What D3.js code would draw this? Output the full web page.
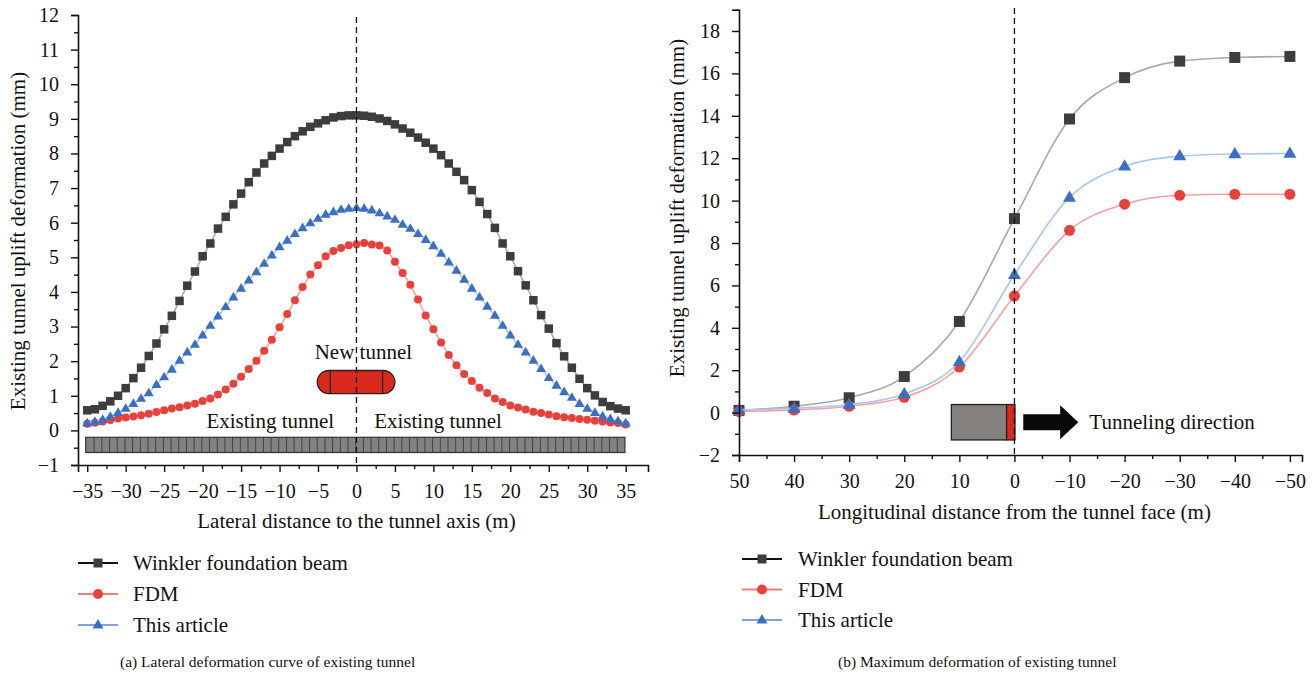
<!DOCTYPE html>
<html><head><meta charset="utf-8">
<script src="https://cdn.jsdelivr.net/npm/d3@7"></script>
<style>
body{margin:0;background:#fff}
svg{display:block}
text{font-family:"Liberation Serif","DejaVu Serif",serif;fill:#111}
</style>
</head><body>
<svg id="c" width="1316" height="678"></svg>
<script>
// ---------- DATA ----------
const lateralX = [-35,-34,-33,-32,-31,-30,-29,-28,-27,-26,-25,-24,-23,-22,-21,-20,-19,-18,-17,-16,-15,-14,-13,-12,-11,-10,-9,-8,-7,-6,-5,-4,-3,-2,-1,0,1,2,3,4,5,6,7,8,9,10,11,12,13,14,15,16,17,18,19,20,21,22,23,24,25,26,27,28,29,30,31,32,33,34,35];
const lateralWinkler = [0.58,0.61,0.71,0.84,1.00,1.22,1.51,1.81,2.15,2.51,2.92,3.31,3.74,4.18,4.59,5.03,5.40,5.83,6.17,6.53,6.84,7.17,7.45,7.71,7.93,8.14,8.33,8.50,8.64,8.77,8.87,8.96,9.04,9.08,9.10,
  9.10,
  9.09,9.06,9.01,8.94,8.84,8.72,8.60,8.46,8.31,8.14,7.95,7.71,7.47,7.23,6.94,6.60,6.25,5.85,5.40,5.03,4.60,4.19,3.76,3.33,2.94,2.52,2.14,1.81,1.49,1.22,1.01,0.82,0.70,0.63,0.58];
const lateralFDM = [0.19,0.22,0.26,0.30,0.34,0.37,0.40,0.44,0.48,0.53,0.58,0.63,0.67,0.72,0.77,0.85,0.92,1.04,1.18,1.35,1.55,1.77,2.01,2.30,2.62,2.98,3.36,3.76,4.14,4.50,4.77,5.03,5.18,5.27,5.35,
  5.38,
  5.41,5.37,5.34,5.20,4.87,4.55,4.21,3.78,3.32,2.92,2.54,2.18,1.88,1.63,1.43,1.23,1.08,0.92,0.82,0.72,0.66,0.60,0.54,0.50,0.46,0.41,0.38,0.36,0.33,0.31,0.28,0.26,0.23,0.21,0.17];
const lateralArticle = [0.21,0.25,0.31,0.40,0.51,0.63,0.77,0.92,1.08,1.32,1.54,1.76,2.02,2.26,2.48,2.75,3.03,3.30,3.57,3.85,4.10,4.34,4.58,4.82,5.06,5.30,5.49,5.68,5.85,5.99,6.12,6.24,6.31,6.38,6.41,
  6.43,
  6.41,6.36,6.28,6.19,6.09,5.95,5.83,5.68,5.51,5.33,5.11,4.86,4.62,4.36,4.10,3.85,3.58,3.32,3.03,2.75,2.48,2.26,2.02,1.78,1.52,1.30,1.11,0.95,0.77,0.63,0.51,0.41,0.33,0.27,0.21];

const longX = [50,40,30,20,10,0,-10,-20,-30,-40,-50];
const longWinkler = [0.10,0.30,0.70,1.70,4.30,9.15,13.85,15.80,16.58,16.75,16.80];
const longFDM     = [0.05,0.12,0.30,0.72,2.15,5.50,8.60,9.83,10.25,10.30,10.30];
const longArticle = [0.12,0.20,0.38,0.88,2.40,6.50,10.15,11.62,12.10,12.20,12.22];

const lateralTicksX = [-35,-30,-25,-20,-15,-10,-5,0,5,10,15,20,25,30,35];
const lateralTicksY = [-1,0,1,2,3,4,5,6,7,8,9,10,11,12];
const longTicksX = [50,40,30,20,10,0,-10,-20,-30,-40,-50];
const longTicksY = [-2,0,2,4,6,8,10,12,14,16,18];

const seriesNames = ["Winkler foundation beam","FDM","This article"];
const captionA = "(a) Lateral deformation curve of existing tunnel";
const captionB = "(b) Maximum deformation of existing tunnel";

// ---------- STYLE ----------
const markerCol = ["#3d3d3d","#e8403a","#3a6fc2"];
const lineCol   = ["#a8a8a8","#f4a0a0","#a9c6ee"];
const legLineCol= ["#111111","#f07e7e","#7fa3dc"];
const TICKF = 20, TITLEF = 21, ANNF = 21;

const svg = d3.select("#c");

function marker(g, kind, x, y, s) {
  if (kind === 0) {
    g.append("rect").attr("x", x - s/2).attr("y", y - s/2).attr("width", s).attr("height", s)
      .attr("fill", markerCol[0]);
  } else if (kind === 1) {
    g.append("circle").attr("cx", x).attr("cy", y).attr("r", s/2).attr("fill", markerCol[1]);
  } else {
    const h = s * Math.sqrt(3) / 2;
    g.append("path").attr("d", `M${x},${y - h*0.62}L${x + s/2},${y + h*0.38}L${x - s/2},${y + h*0.38}Z`)
      .attr("fill", markerCol[2]);
  }
}

function styleAxis(g) {
  g.select(".domain").attr("stroke", "#111").attr("stroke-width", 1.6);
  g.selectAll(".tick line").attr("stroke", "#111").attr("stroke-width", 1.4);
  g.selectAll(".tick text").style("font-family", '"Liberation Serif",serif').style("font-size", TICKF + "px").attr("fill", "#111");
}

// ================= LEFT CHART =================
const xL = d3.scaleLinear().domain([-36.2, 37.9]).range([78, 648]);
const yL = d3.scaleLinear().domain([-1, 12]).range([465, 15]);
const gL = svg.append("g");

// existing tunnel bar
const barTop = yL(-0.2), barBot = yL(-0.64);
gL.append("rect").attr("x", xL(-35.2)).attr("y", barTop).attr("width", xL(34.9) - xL(-35.2)).attr("height", barBot - barTop)
  .attr("fill", "#828282").attr("stroke", "#333").attr("stroke-width", 1.2);
lateralX.slice(1, -1).forEach(v => {
  gL.append("line").attr("x1", xL(v - 0.1)).attr("x2", xL(v - 0.1)).attr("y1", barTop).attr("y2", barBot)
    .attr("stroke", "#3a3a3a").attr("stroke-width", 0.9);
});

// new tunnel pill
const pT = yL(1.73), pB = yL(1.06);
gL.append("rect").attr("x", xL(-5.1)).attr("y", pT).attr("width", xL(5.0) - xL(-5.1)).attr("height", pB - pT)
  .attr("rx", (pB - pT) / 2).attr("ry", (pB - pT) / 2)
  .attr("fill", "#d9291c").attr("stroke", "#222").attr("stroke-width", 1.3);
[-3.4, 3.4].forEach(v => gL.append("line").attr("x1", xL(v)).attr("x2", xL(v)).attr("y1", pT).attr("y2", pB)
  .attr("stroke", "#222").attr("stroke-width", 1.3));

gL.append("text").attr("x", xL(0.9)).attr("y", 359).attr("text-anchor", "middle").style("font-size", ANNF + "px").text("New tunnel");
gL.append("text").attr("x", xL(-11.2)).attr("y", 428).attr("text-anchor", "middle").style("font-size", ANNF + "px").text("Existing tunnel");
gL.append("text").attr("x", xL(10.6)).attr("y", 428).attr("text-anchor", "middle").style("font-size", ANNF + "px").text("Existing tunnel");

// series
const lateralSeries = [lateralWinkler, lateralFDM, lateralArticle];
const sizesL = [8.5, 8, 10];
lateralSeries.forEach((vals, k) => {
  const pts = lateralX.map((x, i) => [xL(x), yL(vals[i])]);
  gL.append("path").attr("d", d3.line()(pts)).attr("fill", "none").attr("stroke", lineCol[k]).attr("stroke-width", 1.5);
  const mg = gL.append("g");
  pts.forEach(p => marker(mg, k, p[0], p[1], sizesL[k]));
});

// axes
const axL = gL.append("g").attr("transform", "translate(78,0)")
  .call(d3.axisLeft(yL).tickValues(lateralTicksY).tickSize(7).tickPadding(12).tickFormat(d3.format("d")));
styleAxis(axL);
const axLm = gL.append("g").attr("transform", "translate(78,0)")
  .call(d3.axisLeft(yL).tickValues(lateralTicksY.slice(0, -1).map(v => v + 0.5)).tickSize(4).tickFormat(""));
styleAxis(axLm); axLm.select(".domain").remove();

const axB = gL.append("g").attr("transform", "translate(0,465)")
  .call(d3.axisBottom(xL).tickValues(lateralTicksX).tickSize(7).tickPadding(12).tickFormat(d3.format("d")));
styleAxis(axB);
const axBm = gL.append("g").attr("transform", "translate(0,465)")
  .call(d3.axisBottom(xL).tickValues(lateralTicksX.slice(0, -1).map(v => v + 2.5)).tickSize(4).tickFormat(""));
styleAxis(axBm); axBm.select(".domain").remove();

// dashed center line
gL.append("line").attr("x1", xL(0)).attr("x2", xL(0)).attr("y1", 17).attr("y2", 465)
  .attr("stroke", "#111").attr("stroke-width", 1.3).attr("stroke-dasharray", "6,4");

gL.append("text").attr("x", xL(0)).attr("y", 528).attr("text-anchor", "middle").style("font-size", TITLEF + "px")
  .text("Lateral distance to the tunnel axis (m)");
gL.append("text").attr("transform", "translate(25,241) rotate(-90)").attr("text-anchor", "middle").style("font-size", TITLEF + "px")
  .text("Existing tunnel uplift deformation (mm)");

// ================= RIGHT CHART =================
const xR = d3.scaleLinear().domain([50, -52.2]).range([739, 1302]);
const yR = d3.scaleLinear().domain([-2, 19]).range([455, 9.8]);
const gR = svg.append("g");

// tunnel box + arrow
const bT = yR(0.38), bB = yR(-1.29);
gR.append("rect").attr("x", xR(11.45)).attr("y", bT).attr("width", xR(1.42) - xR(11.45)).attr("height", bB - bT)
  .attr("fill", "#85817e").attr("stroke", "#222").attr("stroke-width", 1.3);
gR.append("rect").attr("x", xR(1.42)).attr("y", bT).attr("width", xR(-0.1) - xR(1.42)).attr("height", bB - bT)
  .attr("fill", "#d9291c").attr("stroke", "#222").attr("stroke-width", 1.3);
const aY = (yR(0.38) + yR(-1.29)) / 2;
const ax0 = xR(-1.6), axs = xR(-8.3), axt = xR(-11.6);
gR.append("path").attr("d", `M${ax0},${aY-8}L${axs},${aY-8}L${axs},${aY-17}L${axt},${aY}L${axs},${aY+17}L${axs},${aY+8}L${ax0},${aY+8}Z`)
  .attr("fill", "#0a0a0a");
gR.append("text").attr("x", xR(-13.6)).attr("y", aY + 7).style("font-size", ANNF + "px").text("Tunneling direction");

const longSeries = [longWinkler, longFDM, longArticle];
const sizesR = [11, 11, 13];
longSeries.forEach((vals, k) => {
  const pts = longX.map((x, i) => [xR(x), yR(vals[i])]);
  gR.append("path").attr("d", d3.line().curve(d3.curveMonotoneX)(pts)).attr("fill", "none")
    .attr("stroke", lineCol[k]).attr("stroke-width", 1.6);
  const mg = gR.append("g");
  pts.forEach(p => marker(mg, k, p[0], p[1], sizesR[k]));
});

const axR = gR.append("g").attr("transform", "translate(739,0)")
  .call(d3.axisLeft(yR).tickValues(longTicksY).tickSize(7).tickPadding(12).tickFormat(d3.format("d")));
styleAxis(axR);
const axRm = gR.append("g").attr("transform", "translate(739,0)")
  .call(d3.axisLeft(yR).tickValues(longTicksY.map(v => v + 1)).tickSize(4).tickFormat(""));
styleAxis(axRm); axRm.select(".domain").remove();

const axRB = gR.append("g").attr("transform", "translate(0,455)")
  .call(d3.axisBottom(xR).tickValues(longTicksX).tickSize(7).tickPadding(12).tickFormat(d3.format("d")));
styleAxis(axRB);
const axRBm = gR.append("g").attr("transform", "translate(0,455)")
  .call(d3.axisBottom(xR).tickValues(longTicksX.slice(0, -1).map(v => v - 5)).tickSize(4).tickFormat(""));
styleAxis(axRBm); axRBm.select(".domain").remove();

gR.append("line").attr("x1", xR(0)).attr("x2", xR(0)).attr("y1", 8).attr("y2", 455)
  .attr("stroke", "#111").attr("stroke-width", 1.3).attr("stroke-dasharray", "6,4");

gR.append("text").attr("x", xR(0)).attr("y", 519).attr("text-anchor", "middle").style("font-size", TITLEF + "px")
  .text("Longitudinal distance from the tunnel face (m)");
gR.append("text").attr("transform", "translate(684,208) rotate(-90)").attr("text-anchor", "middle").style("font-size", TITLEF + "px")
  .text("Existing tunnel uplift deformation (mm)");

// ================= LEGENDS & CAPTIONS =================
function legend(x0, y0, gap, lineLen, textX) {
  const g = svg.append("g");
  seriesNames.forEach((name, k) => {
    const y = y0 + k * gap;
    g.append("line").attr("x1", x0).attr("x2", x0 + lineLen).attr("y1", y).attr("y2", y)
      .attr("stroke", legLineCol[k]).attr("stroke-width", 2);
    marker(g, k, x0 + lineLen / 2, y, [9, 10, 11][k]);
    g.append("text").attr("x", textX).attr("y", y + 7).style("font-size", ANNF + "px").text(name);
  });
}
legend(78, 563, 31, 40, 133);
legend(742, 559, 30.5, 40, 798);

svg.append("text").attr("x", 120).attr("y", 667).style("font-size", "15.5px").text(captionA);
svg.append("text").attr("x", 838).attr("y", 667).style("font-size", "15.5px").text(captionB);
</script>
</body></html>
